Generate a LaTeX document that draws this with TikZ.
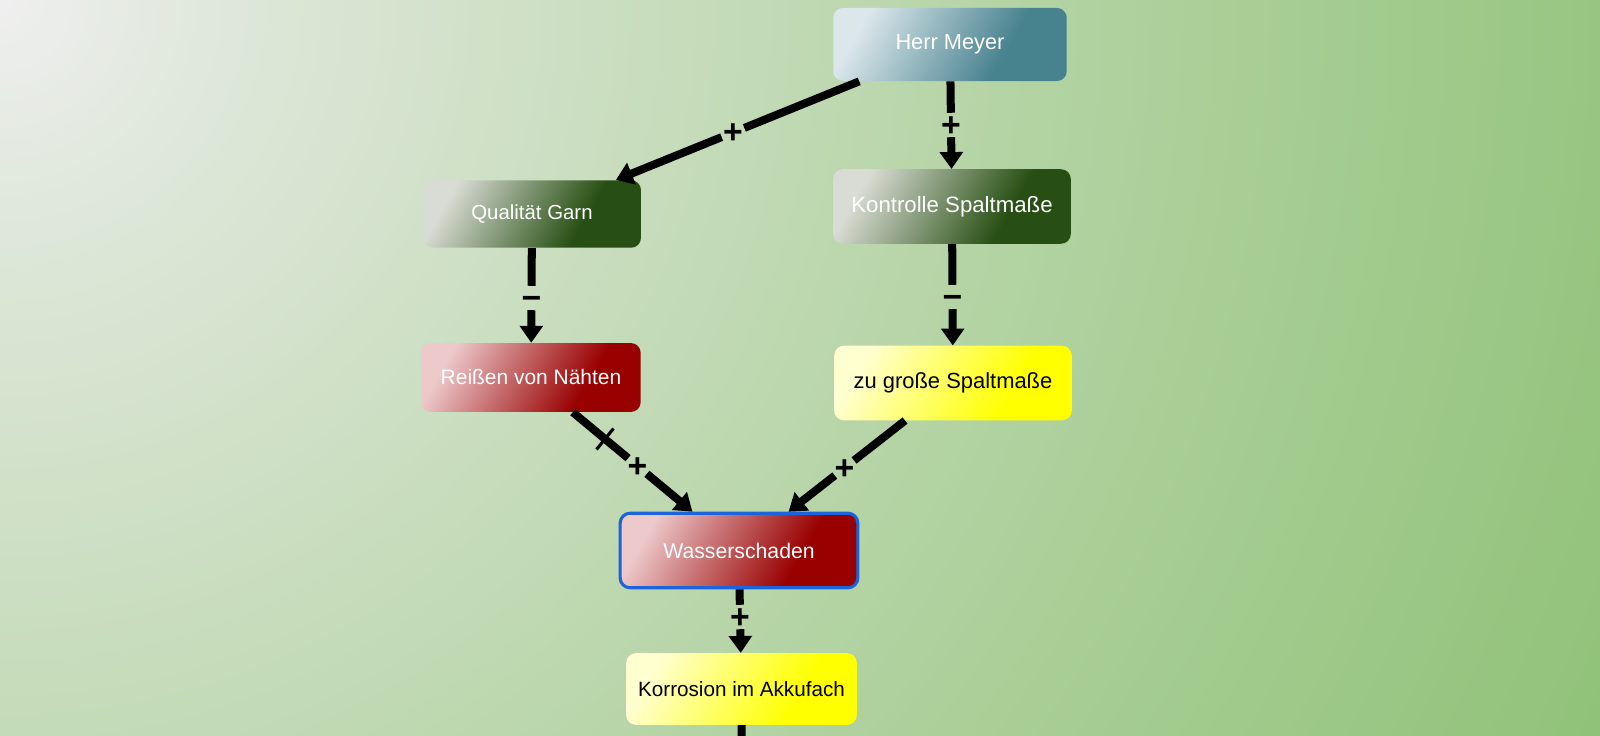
\documentclass[tikz,border=0pt]{standalone}
\usepackage{fontspec}
\setmainfont{Liberation Sans}
\usepackage{tikz}
\usetikzlibrary{arrows.meta}

\definecolor{meyerLight}{HTML}{DCE7EB}
\definecolor{meyerDark}{HTML}{47828F}
\definecolor{greenLight}{HTML}{D9DCD4}
\definecolor{greenDark}{HTML}{274F13}
\definecolor{redLight}{HTML}{EDC9CB}
\definecolor{redDark}{HTML}{990000}
\definecolor{yellowLight}{HTML}{FFFFD0}
\definecolor{yellowDark}{HTML}{FFFF00}
\colorlet{meyerMid}{meyerDark!30!meyerLight}
\colorlet{greenMid}{greenDark!30!greenLight}
\colorlet{redMid}{redDark!30!redLight}
\colorlet{yellowMid}{yellowDark!30!yellowLight}
\definecolor{bgA}{HTML}{EFEFEF}
\definecolor{bgB}{HTML}{E0E8DC}
\definecolor{bgC}{HTML}{D5E3CE}
\definecolor{bgD}{HTML}{C0D9B3}
\definecolor{bgE}{HTML}{AACF98}
\definecolor{bgF}{HTML}{98C682}
\definecolor{bgG}{HTML}{8FC177}
\definecolor{frameBlue}{HTML}{1C64DC}

\pgfdeclarehorizontalshading{meyershade}{100bp}{color(0bp)=(meyerLight); color(25bp)=(meyerLight); color(37bp)=(meyerMid); color(65bp)=(meyerDark); color(100bp)=(meyerDark)}
\pgfdeclarehorizontalshading{greenshade}{100bp}{color(0bp)=(greenLight); color(25bp)=(greenLight); color(37bp)=(greenMid); color(65bp)=(greenDark); color(100bp)=(greenDark)}
\pgfdeclarehorizontalshading{redshade}{100bp}{color(0bp)=(redLight); color(25bp)=(redLight); color(37bp)=(redMid); color(66bp)=(redDark); color(100bp)=(redDark)}
\pgfdeclarehorizontalshading{yellowshade}{100bp}{color(0bp)=(yellowLight); color(25bp)=(yellowLight); color(37bp)=(yellowMid); color(66bp)=(yellowDark); color(100bp)=(yellowDark)}
\pgfdeclareradialshading{bgshade}{\pgfpoint{0bp}{0bp}}{color(0bp)=(bgA); color(2.8bp)=(bgB); color(5.6bp)=(bgC); color(11.1bp)=(bgD); color(16.7bp)=(bgE); color(22.2bp)=(bgF); color(25bp)=(bgG); color(50bp)=(bgG)}

\newcommand{\signlbl}[1]{\raisebox{-8pt}[0pt][0pt]{\makebox[0pt]{#1}}}
\newcommand{\fs}[1]{\fontsize{#1}{18}\selectfont}

\begin{document}
\begin{tikzpicture}[
    x=0.025cm, y=-0.025cm,
    box/.style={rectangle, rounded corners=7pt, align=center, shade, shading angle=-30, font=\fs{15}},
    meyer/.style={box, shading=meyershade, text=white},
    cause/.style={box, shading=greenshade, text=white},
    fault/.style={box, shading=redshade, text=white},
    effect/.style={box, shading=yellowshade, text=black},
    link/.style={line width=5.7pt, black},
    arrow/.style={link, -{Triangle[length=12pt, width=16pt]}},
    sign/.style={circle, inner sep=0pt, minimum size=17pt, font=\fontsize{24}{24}\selectfont\bfseries}
]
    % Background
    \useasboundingbox (0,0) rectangle (1600,736);
    \clip (0,0) rectangle (1600,736);
    \shade[shading=bgshade] (0,0) circle [radius=1800];

    % Nodes
    \node[meyer, font=\fs{15.5}, minimum width=166pt, minimum height=52pt] (meyer) at (950,44.5) {Herr Meyer};
    \node[cause, font=\fs{14.5}, minimum width=155pt, minimum height=48pt] (garn) at (532,214) {Qualität Garn};
    \node[cause, font=\fs{15.8}, minimum width=169pt, minimum height=53pt] (kontrolle) at (952,206.5) {Kontrolle Spaltmaße};
    \node[fault, font=\fs{14.9}, minimum width=156pt, minimum height=49pt] (naehte) at (531,377.5) {Reißen von Nähten};
    \node[effect, font=\fs{15.6}, minimum width=169pt, minimum height=53pt] (spalt) at (953,383) {zu große Spaltmaße};
    \node[fault, font=\fs{15.1}, draw=frameBlue, line width=2.2pt, minimum width=169pt, minimum height=53pt] (wasser) at (739,550.5) {Wasserschaden};
    \node[effect, font=\fs{14.7}, minimum width=164pt, minimum height=51pt] (korrosion) at (741.5,689) {Korrosion im Akkufach};
    \coordinate (weiter) at (742,800);

    % Signs on the edges
    \node[sign] (s1) at (733,132.5) {\signlbl{+}};
    \node[sign] (s2) at (951,125) {\signlbl{+}};
    \node[sign] (s3) at (531.5,298) {\signlbl{−}};
    \node[sign] (s4) at (952.5,297) {\signlbl{−}};
    \node[sign] (s5) at (637.5,466) {\signlbl{+}};
    \node[sign] (s6) at (844.4,468) {\signlbl{+}};
    \node[sign] (s7) at (740,617) {\signlbl{+}};
    \coordinate (tick) at (605,439);

    % Edges
    \draw[link] (meyer) -- (s1);
    \draw[arrow] (s1) -- (garn);
    \draw[link] (meyer) -- (s2);
    \draw[arrow] (s2) -- (kontrolle);
    \draw[link] (garn) -- (s3);
    \draw[arrow] (s3) -- (naehte);
    \draw[link] (kontrolle) -- (s4);
    \draw[arrow] (s4) -- (spalt);
    \draw[link] (naehte) -- (s5);
    \draw[arrow] (s5) -- (wasser);
    \draw[link] (spalt) -- (s6);
    \draw[arrow] (s6) -- (wasser);
    \draw[link] (wasser) -- (s7);
    \draw[arrow] (s7) -- (korrosion);
    \draw[link] (korrosion) -- (weiter);
    \draw[line width=2.2pt] ([shift={(8.5,-10.5)}]tick) -- ([shift={(-8.5,10.5)}]tick);

\end{tikzpicture}
\end{document}
